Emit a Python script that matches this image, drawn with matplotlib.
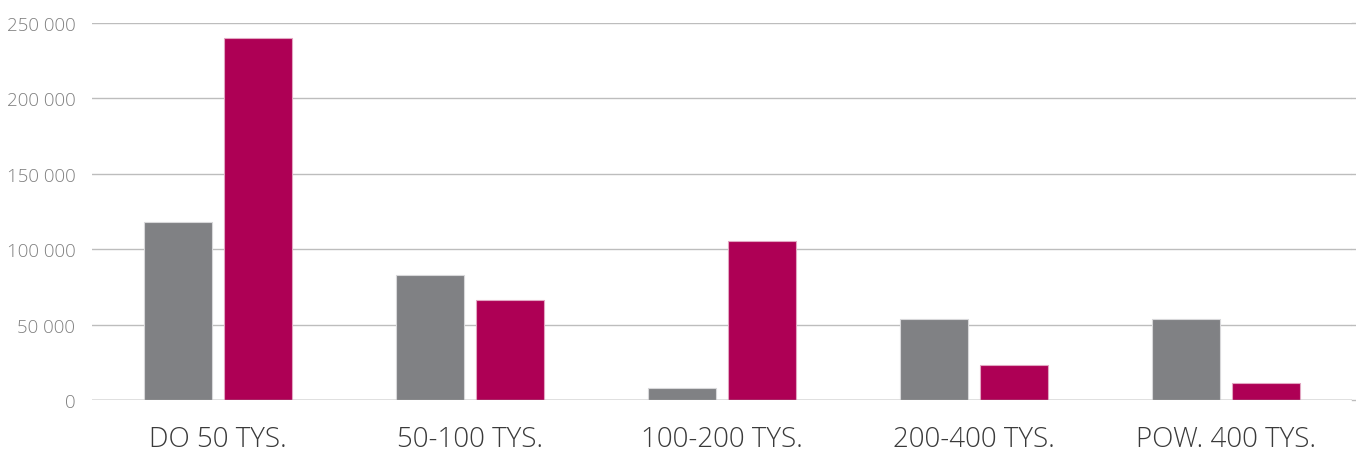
import numpy as np
import matplotlib
matplotlib.use('Agg')
import matplotlib.pyplot as plt
from matplotlib.ticker import FuncFormatter

categories = ['DO 50 TYS.', '50-100 TYS.', '100-200 TYS.', '200-400 TYS.', 'POW. 400 TYS.']
gray_vals = [118000, 83000, 8000, 54000, 54000]
red_vals = [240000, 66000, 105500, 23500, 11500]
yticks = [0, 50000, 100000, 150000, 200000, 250000]

plt.rcParams['font.family'] = ['Open Sans', 'DejaVu Sans']

fig = plt.figure(figsize=(13.56, 4.52), dpi=100, facecolor='w')
ax = fig.add_axes([92/1356, 1-401/452, 1260/1356, (401-24)/452])

x = np.arange(len(categories))
w = 0.27
off = 0.159
ax.bar(x - off, gray_vals, w, color='#808184', edgecolor='#d8d8da', linewidth=0.8, zorder=3)
ax.bar(x + off, red_vals, w, color='#ae0055', edgecolor='#e2a6c2', linewidth=0.8, zorder=3)

ax.set_xlim(-0.5, 4.5)
ax.set_ylim(0, 250000)
ax.set_yticks(yticks)
ax.yaxis.set_major_formatter(FuncFormatter(lambda v, p: '{:,}'.format(int(v)).replace(',', ' ')))
ax.set_xticks(x)
ax.set_xticklabels(categories)

ax.grid(True, axis='y', color='#bdbdbd', linewidth=1.0, zorder=0)
for s in ['top', 'right', 'left', 'bottom']:
    ax.spines[s].set_visible(False)
ax.axhline(0, color='#9a9a9a', linewidth=1.0, zorder=4)
# gridlines run to the right edge of the picture
for yv in yticks:
    ax.plot([4.5, 4.52], [yv, yv], color='#bdbdbd', linewidth=1.0, clip_on=False, zorder=0)

ax.tick_params(axis='y', length=0, pad=12, labelsize=13.5, labelcolor='#808080')
ax.tick_params(axis='x', length=0, pad=18, labelsize=20, labelcolor='#3a3a3a')
for t in ax.get_yticklabels() + ax.get_xticklabels():
    t.set_fontweight('light')

plt.savefig('out.png', dpi=100)
